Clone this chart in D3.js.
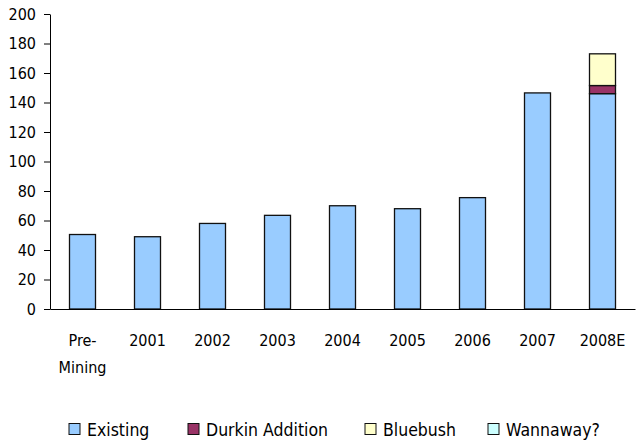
<!DOCTYPE html>
<html>
<head>
<meta charset="utf-8">
<script src="https://cdn.jsdelivr.net/npm/d3@7"></script>
<style>
  body { margin: 0; background: #fff; }
  text { font-family: "DejaVu Sans Condensed", "DejaVu Sans", sans-serif; font-size: 16px; fill: #000; }
  .legend text { font-size: 17.5px; }
</style>
</head>
<body>
<div id="wrapper"></div>
<script>
// data
const categories = ["Pre-\nMining", "2001", "2002", "2003", "2004", "2005", "2006", "2007", "2008E"]
const existing   = [50.5, 49, 58, 63.5, 70, 68, 75.5, 146.5, 146]
const durkin     = [0, 0, 0, 0, 0, 0, 0, 0, 5.5]
const bluebush   = [0, 0, 0, 0, 0, 0, 0, 0, 21.5]
const wannaway   = [0, 0, 0, 0, 0, 0, 0, 0, 0]
const seriesNames = ["Existing", "Durkin Addition", "Bluebush", "Wannaway?"]
const seriesColors = ["#99ccff", "#993366", "#ffffcc", "#ccffff"]
const yTicks = [0, 20, 40, 60, 80, 100, 120, 140, 160, 180, 200]

function drawBars() {
  const dimensions = {
    width: 637,
    height: 442,
    margin: { top: 14, right: 2, bottom: 133, left: 50 },
  }
  dimensions.boundedWidth = dimensions.width - dimensions.margin.left - dimensions.margin.right
  dimensions.boundedHeight = dimensions.height - dimensions.margin.top - dimensions.margin.bottom

  const wrapper = d3.select("#wrapper")
    .append("svg")
      .attr("width", dimensions.width)
      .attr("height", dimensions.height)

  const bounds = wrapper.append("g")
      .attr("transform", `translate(${dimensions.margin.left}, ${dimensions.margin.top})`)

  // build stack table
  const table = categories.map((c, i) => ({
    cat: c,
    "Existing": existing[i],
    "Durkin Addition": durkin[i],
    "Bluebush": bluebush[i],
    "Wannaway?": wannaway[i],
  }))
  const stacked = d3.stack().keys(seriesNames)(table)

  const xScale = d3.scaleBand()
    .domain(categories)
    .range([0, dimensions.boundedWidth])
    .paddingInner(0.6)
    .paddingOuter(0.3)

  const yScale = d3.scaleLinear()
    .domain([0, 200])
    .range([dimensions.boundedHeight, 0])

  const color = d3.scaleOrdinal().domain(seriesNames).range(seriesColors)

  // bars
  bounds.selectAll(".series")
    .data(stacked)
    .join("g")
      .attr("class", "series")
      .attr("fill", d => color(d.key))
    .selectAll("rect")
    .data(d => d.filter(s => s[1] - s[0] > 0))
    .join("rect")
      .attr("x", d => xScale(d.data.cat))
      .attr("y", d => yScale(d[1]))
      .attr("width", xScale.bandwidth())
      .attr("height", d => yScale(d[0]) - yScale(d[1]))
      .attr("stroke", "#111")
      .attr("stroke-width", 1.3)

  // y axis
  const yAxis = bounds.append("g")
    .call(d3.axisLeft(yScale).tickValues(yTicks).tickSize(6).tickPadding(8).tickSizeOuter(0))
  yAxis.attr("font-size", null).attr("font-family", null)
  yAxis.selectAll("line, path").attr("stroke", "#000")

  // x axis
  const xAxis = bounds.append("g")
    .attr("transform", `translate(0, ${dimensions.boundedHeight})`)
    .call(d3.axisBottom(xScale).tickSize(0).tickSizeOuter(0).tickFormat(""))
  xAxis.attr("font-size", null).attr("font-family", null)
  xAxis.select(".domain").attr("stroke", "#000")

  xAxis.selectAll(".tick")
    .append("text")
      .attr("text-anchor", "middle")
      .attr("y", 37)
      .each(function(d) {
        const lines = d.split("\n")
        d3.select(this).selectAll("tspan")
          .data(lines)
          .join("tspan")
            .attr("x", 0)
            .attr("dy", (l, i) => i === 0 ? 0 : 27)
            .text(l => l)
      })

  // legend
  const legendX = [69, 188, 365, 488]
  const legend = wrapper.append("g")
    .attr("class", "legend")
    .attr("transform", "translate(0, 423.5)")
  const items = legend.selectAll("g")
    .data(seriesNames)
    .join("g")
      .attr("transform", (d, i) => `translate(${legendX[i]}, 0)`)
  items.append("rect")
      .attr("width", 11)
      .attr("height", 11)
      .attr("fill", d => color(d))
      .attr("stroke", "#111")
      .attr("stroke-width", 1)
  items.append("text")
      .attr("x", 18)
      .attr("y", 12.5)
      .text(d => d)
}
drawBars()
</script>
</body>
</html>
